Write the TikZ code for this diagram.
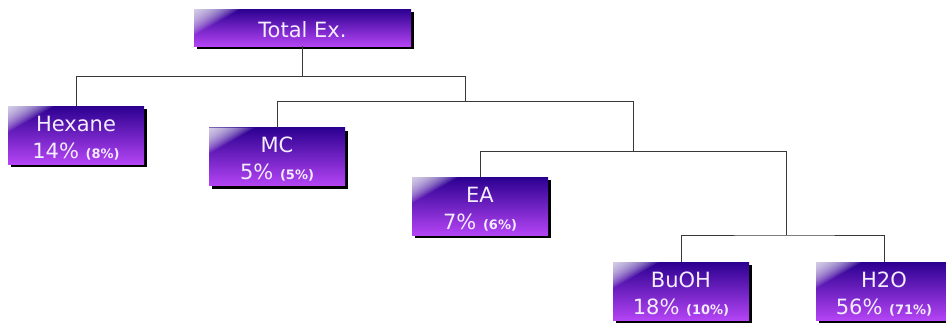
\documentclass[tikz,border=0pt]{standalone}
\usepackage{fontspec}
\setmainfont{DejaVu Sans}
\usetikzlibrary{shadows}

\definecolor{boxtop}{HTML}{2B0090}
\definecolor{boxbottom}{HTML}{B444F4}
\definecolor{boxtext}{HTML}{F4ECFF}
\definecolor{wirecol}{HTML}{383838}

% two-line box text: name on the first line, percentages on the second
\newcommand\twolines[3]{\vbox to 58pt{\hsize=136pt\parindent=0pt\centering
  \baselineskip=27pt\lineskiplimit=-40pt
  \rule{0pt}{25pt}#1\par
  #2 {\fontsize{13}{13}\selectfont\bfseries(#3)}\par\vss}}
\newcommand\oneline[1]{\vbox to 37pt{\hsize=217pt\parindent=0pt\centering
  \rule{0pt}{28pt}#1\par\vss}}

\tikzset{
  fraction/.style={
    rectangle, inner sep=0pt, outer sep=0pt,
    top color=boxtop, bottom color=boxbottom,
    text=boxtext, font=\fontsize{21}{27}\selectfont,
    drop shadow={shadow xshift=3pt, shadow yshift=-3pt, fill=black, opacity=1},
    % white glint in the upper left corner, built from stacked
    % translucent triangles so that it fades along the diagonal
    path picture={
      \foreach \s in {1,...,18}{
        \fill[white, opacity=0.09]
          (path picture bounding box.north west)
          -- ++({46*\s/18},0) -- ++({-46*\s/18},{-26*\s/18}) -- cycle;
      }
    }
  },
  wire/.style={draw=wirecol, line width=0.9pt}
}

\begin{document}
\begin{tikzpicture}[x=1pt, y=1pt]
  \useasboundingbox (0,0) rectangle (946,-322);

  % extraction fractions
  \node[fraction] (total)  at (302.5,-27.5) {\oneline{Total Ex.}};
  \node[fraction] (hexane) at (76,-135)     {\twolines{Hexane}{14\%}{8\%}};
  \node[fraction] (mc)     at (277,-156.5)  {\twolines{MC}{5\%}{5\%}};
  \node[fraction] (ea)     at (480,-206)    {\twolines{EA}{7\%}{6\%}};
  \node[fraction] (buoh)   at (681,-291)    {\twolines{BuOH}{18\%}{10\%}};
  \node[fraction] (h2o)    at (884,-291)    {\twolines{H2O}{56\%}{71\%}};

  % branch points of the partition tree
  \coordinate (bus1) at (465,-76);
  \coordinate (bus2) at (633,-101);
  \coordinate (bus3) at (786,-151);
  \coordinate (bus4) at (786,-235);

  % connectors
  \draw[wire] (total.south) -- (total.south |- bus1);
  \draw[wire] (hexane.north) |- (bus1) -- (bus1 |- bus2);
  \draw[wire] (mc.north) |- (bus2);
  \draw[wire] (bus2) -- (bus2 |- bus3);
  \draw[wire] (ea.north) |- (bus3);
  \draw[wire] (bus3) -- (bus4);
  \draw[wire] (buoh.north) |- (bus4) -| (h2o.north);
\end{tikzpicture}
\end{document}
